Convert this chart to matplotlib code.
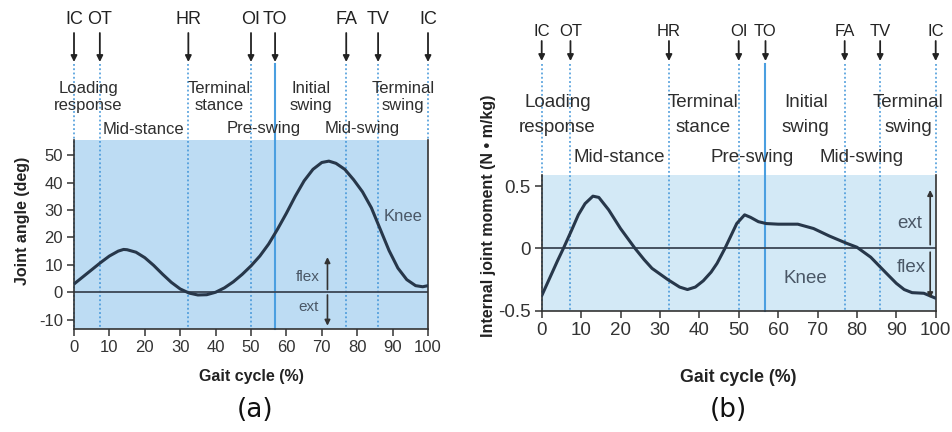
import matplotlib.pyplot as plt
import matplotlib.transforms as mtransforms

plt.rcParams['font.family'] = ['Liberation Sans', 'DejaVu Sans']
plt.rcParams['axes.unicode_minus'] = False

W, H = 952, 432

# gait events, % of the cycle
event_names = ["IC", "OT", "HR", "OI", "TO", "FA", "TV", "IC"]
event_pos = [0, 7.3, 32.3, 50, 56.8, 76.9, 85.9, 100]
toe_off = 56.8

# phase names written between the events
phase_top = ["Loading\nresponse", "Terminal\nstance", "Initial\nswing", "Terminal\nswing"]
phase_top_x = [4, 41, 67, 93]
phase_low = ["Mid-stance", "Pre-swing", "Mid-swing"]
phase_low_x = [19.6, 53.5, 81.3]

# knee flexion angle (deg)
angle_x = [0, 2.5, 5, 7.5, 10, 12.5, 14, 15, 17.5, 20, 22.5, 25, 27.5, 30, 32.5,
           35, 37.5, 40, 42.5, 45, 47.5, 50, 52.5, 55, 57.5, 60, 62.5, 65, 67.5,
           70, 72, 74, 76.5, 79, 81.5, 84, 86.5, 89, 91.5, 94, 96.5, 98.5, 100]
angle_y = [3.0, 5.6, 8.2, 10.8, 13.2, 15.0, 15.6, 15.5, 14.6, 12.6, 9.8, 6.6, 3.6,
           1.2, -0.3, -1.0, -0.9, 0.0, 1.6, 3.8, 6.5, 9.6, 13.2, 17.6, 23.0, 28.8,
           35.0, 40.6, 44.8, 47.3, 47.8, 47.0, 44.8, 41.0, 36.6, 30.8, 23.0, 15.2,
           8.8, 4.6, 2.4, 2.0, 2.4]

# knee internal joint moment (N m/kg)
moment_x = [0, 2, 4, 5.5, 7.5, 9.3, 11, 13, 14.5, 17, 20, 23.7, 26, 28, 32, 35,
            37, 39, 41, 43, 44.5, 46.5, 48, 49.5, 51.5, 53, 55, 57, 60, 65, 69,
            73, 77.5, 80, 83.5, 87.5, 90, 92, 94, 97, 100]
moment_y = [-0.38, -0.24, -0.10, 0.0, 0.14, 0.27, 0.36, 0.42, 0.41, 0.31, 0.16,
            0.0, -0.09, -0.16, -0.25, -0.31, -0.33, -0.31, -0.26, -0.19, -0.12,
            0.0, 0.10, 0.20, 0.27, 0.25, 0.215, 0.20, 0.195, 0.195, 0.16, 0.10,
            0.04, 0.01, -0.07, -0.20, -0.28, -0.33, -0.355, -0.36, -0.40]

CURVE = '#27374a'
DOT = '#3f94d8'
TEXT = '#2e2e2e'
NOTE = '#4a5766'


def fy(p):
    # pixel row from the top -> figure fraction
    return 1 - p / H


def gait_panel(fig, rect, bg, ev_y, arrow_y, row1_y, row2_y, ev_fs, ph_fs, lsp, tick_fs):
    ax = fig.add_axes([rect[0] / W, fy(rect[3]), (rect[2] - rect[0]) / W, (rect[3] - rect[1]) / H])
    ax.set_facecolor(bg)
    trans = mtransforms.blended_transform_factory(ax.transData, fig.transFigure)

    for name, x in zip(event_names, event_pos):
        ax.text(x, fy(ev_y), name, transform=trans, ha='center', va='center',
                fontsize=ev_fs, color='#222222')
        ax.annotate("", xy=(x, fy(arrow_y[1])), xytext=(x, fy(arrow_y[0])),
                    xycoords=trans, textcoords=trans, annotation_clip=False,
                    arrowprops=dict(arrowstyle='-|>', color='#222222', lw=1.3,
                                    mutation_scale=9, shrinkA=0, shrinkB=0))
        if x == toe_off:
            ax.plot([x, x], [fy(64), fy(rect[3])], transform=trans, clip_on=False,
                    color='#4b9fe0', lw=1.5, zorder=1)
        elif x < 100:
            ax.plot([x, x], [fy(64), fy(rect[3])], transform=trans, clip_on=False,
                    color=DOT, lw=1.1, ls=(0, (1.2, 1.6)), zorder=1)
        else:
            ax.plot([x, x], [fy(64), fy(rect[1])], transform=trans, clip_on=False,
                    color=DOT, lw=1.1, ls=(0, (1.2, 1.6)), zorder=1)

    for name, x in zip(phase_top, phase_top_x):
        ax.text(x, fy(row1_y), name, transform=trans, ha='center', va='center',
                fontsize=ph_fs, color=TEXT, linespacing=lsp)
    for name, x in zip(phase_low, phase_low_x):
        ax.text(x, fy(row2_y), name, transform=trans, ha='center', va='center',
                fontsize=ph_fs, color=TEXT)

    ax.axhline(0, color='#3b4654', lw=1.3, zorder=2)
    ax.set_xlim(0, 100)
    ax.set_xticks(range(0, 101, 10))
    ax.spines['top'].set_visible(False)
    for s in ['left', 'bottom', 'right']:
        ax.spines[s].set_color('#333333')
        ax.spines[s].set_linewidth(1.2)
    ax.tick_params(direction='out', length=5, width=1.1, colors='#333333',
                   labelsize=tick_fs, pad=3)
    return ax


def flex_arrow(ax, x, y0, y1):
    ax.annotate("", xy=(x, y1), xytext=(x, y0),
                arrowprops=dict(arrowstyle='-|>', color='#333333', lw=1.2,
                                mutation_scale=8, shrinkA=0, shrinkB=0))


fig = plt.figure(figsize=(W / 100, H / 100), dpi=100)

# (a) knee angle
ax_a = gait_panel(fig, (74, 140, 428, 329), '#bddcf3', 19, (33, 62), 97, 129,
                  13, 12, 1.1, 12)
ax_a.plot(angle_x, angle_y, color=CURVE, lw=2.2, zorder=3, solid_capstyle='round')
ax_a.set_ylim(-13.4, 55.5)
ax_a.set_yticks(range(-10, 51, 10))
ax_a.set_xlabel("Gait cycle (%)", fontsize=11.5, fontweight='bold', color='#222222')
ax_a.set_ylabel("Joint angle (deg)", fontsize=11.5, fontweight='bold', color='#222222')
ax_a.xaxis.set_label_coords(0.502, -0.21)
ax_a.yaxis.set_label_coords(-0.125, 0.57)
ax_a.text(93, 27.6, "Knee", ha='center', va='center', fontsize=12, color=NOTE)
ax_a.text(66, 5.7, "flex", ha='center', va='center', fontsize=11, color=NOTE)
ax_a.text(66.4, -5.3, "ext", ha='center', va='center', fontsize=11, color=NOTE)
flex_arrow(ax_a, 71.6, 1.0, 12.8)
flex_arrow(ax_a, 71.6, -1.0, -12.2)

# (b) knee moment
ax_b = gait_panel(fig, (541.7, 175, 935.7, 310.7), '#d3e9f6', 31.5, (41, 61), 115, 157,
                  12, 13.5, 1.55, 13.5)
ax_b.plot(moment_x, moment_y, color=CURVE, lw=2.2, zorder=3, solid_capstyle='round')
ax_b.set_ylim(-0.5, 0.59)
ax_b.set_yticks([-0.5, 0, 0.5])
ax_b.set_yticklabels(["-0.5", "0", "0.5"])
ax_b.set_xlabel("Gait cycle (%)", fontsize=12.8, fontweight='bold', color='#222222')
ax_b.set_ylabel("Internal joint moment (N \u2022 m/kg)", fontsize=11.5,
                fontweight='bold', color='#222222')
ax_b.xaxis.set_label_coords(0.498, -0.43)
ax_b.yaxis.set_label_coords(-0.115, 0.7)
ax_b.text(66.8, -0.24, "Knee", ha='center', va='center', fontsize=13.5, color=NOTE)
ax_b.text(93.5, 0.2, "ext", ha='center', va='center', fontsize=13.5, color=NOTE)
ax_b.text(93.8, -0.15, "flex", ha='center', va='center', fontsize=13.5, color=NOTE)
flex_arrow(ax_b, 98.6, 0.03, 0.47)
flex_arrow(ax_b, 98.6, -0.03, -0.40)

fig.text(255 / W, fy(410), "(a)", ha='center', va='center', fontsize=19,
         family='DejaVu Sans', color='#111111')
fig.text(728 / W, fy(410), "(b)", ha='center', va='center', fontsize=19,
         family='DejaVu Sans', color='#111111')

fig.savefig("out.png", dpi=100, facecolor='white')
